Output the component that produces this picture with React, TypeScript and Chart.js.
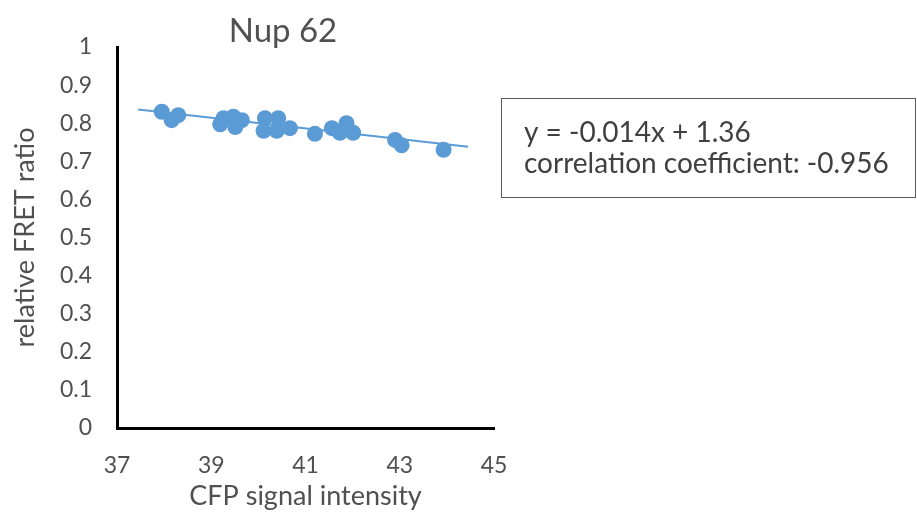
import React, { useEffect, useRef } from "react";
import { Chart, registerables } from "chart.js";

Chart.register(...registerables);

const chartTitle = "Nup 62";
const xAxisTitle = "CFP signal intensity";
const yAxisTitle = "relative FRET ratio";
const equationLines = ["y = -0.014x + 1.36", "correlation coefficient: -0.956"];

const cfpIntensity = [
  37.95, 38.16, 38.3, 39.19, 39.26, 39.47, 39.51, 39.65, 40.11, 40.14, 40.39,
  40.42, 40.67, 41.2, 41.56, 41.73, 41.87, 42.01, 42.9, 43.04, 43.93,
];
const fretRatio = [
  0.83, 0.808, 0.821, 0.797, 0.813, 0.817, 0.79, 0.808, 0.78, 0.813, 0.78,
  0.813, 0.787, 0.772, 0.787, 0.775, 0.8, 0.775, 0.756, 0.742, 0.73,
];
const trendX = [37.45, 44.45];
const trendY = [0.836, 0.738];

const xTicks = [37, 39, 41, 43, 45];

const FONT = "Lato, 'Open Sans', sans-serif";
const BLUE = "#5B9BD5";

const overlayPlugin = {
  id: "overlay",
  afterDraw(chart: any) {
    const ctx = chart.ctx;
    ctx.save();
    // chart title
    ctx.fillStyle = "#505050";
    ctx.font = `33px ${FONT}`;
    ctx.textAlign = "center";
    ctx.textBaseline = "middle";
    ctx.fillText(chartTitle, 283, 31);
    // equation box
    ctx.strokeStyle = "#595959";
    ctx.lineWidth = 1;
    ctx.strokeRect(501.5, 98.5, 414, 99);
    ctx.font = `28px ${FONT}`;
    ctx.textAlign = "left";
    ctx.fillStyle = "#404040";
    equationLines.forEach((line, i) => {
      ctx.fillText(line, 524, 133 + i * 31);
    });
    ctx.restore();
  },
};

export default function App() {
  const ref = useRef<HTMLCanvasElement>(null);
  useEffect(() => {
    const chart = new Chart(ref.current!, {
      type: "scatter",
      data: {
        datasets: [
          {
            type: "line",
            data: trendX.map((x, i) => ({ x, y: trendY[i] })),
            borderColor: BLUE,
            borderWidth: 2,
            pointRadius: 0,
            fill: false,
            order: 2,
          } as any,
          {
            data: cfpIntensity.map((x, i) => ({ x, y: fretRatio[i] })),
            backgroundColor: BLUE,
            borderColor: BLUE,
            pointRadius: 8,
            pointBorderWidth: 0,
            order: 1,
          },
        ],
      },
      options: {
        responsive: false,
        animation: false,
        devicePixelRatio: 1,
        layout: { padding: { top: 47, left: 0, right: 423, bottom: 0 } },
        plugins: {
          legend: { display: false },
          tooltip: { enabled: false },
          title: { display: false },
        },
        scales: {
          x: {
            type: "linear",
            min: 37,
            max: 45,
            afterFit: (s: any) => {
              s.height = 92;
            },
            afterBuildTicks: (s: any) => {
              s.ticks = xTicks.map((v) => ({ value: v }));
            },
            grid: { display: false, drawTicks: false },
            border: { display: true, color: "#000", width: 3 },
            ticks: {
              padding: 24,
              color: "#505050",
              font: { family: FONT, size: 23 },
            },
            title: {
              display: true,
              text: xAxisTitle,
              color: "#505050",
              font: { family: FONT, size: 27 },
              padding: { top: 0, bottom: 8 },
            },
          },
          y: {
            type: "linear",
            min: 0,
            max: 1,
            afterFit: (s: any) => {
              s.width = 117;
            },
            grid: { display: false, drawTicks: false },
            border: { display: true, color: "#000", width: 3 },
            ticks: {
              stepSize: 0.1,
              padding: 25,
              color: "#505050",
              font: { family: FONT, size: 23 },
              callback: (v: any) => String(Math.round(Number(v) * 10) / 10),
            },
            title: {
              display: true,
              text: yAxisTitle,
              color: "#505050",
              font: { family: FONT, size: 27 },
              padding: { top: 9, bottom: 0 },
            },
          },
        },
      },
      plugins: [overlayPlugin],
    });
    return () => chart.destroy();
  }, []);
  return (
    <div style={{ position: "absolute", left: 0, top: 0, width: 917, height: 520, background: "#fff" }}>
      <canvas ref={ref} width={917} height={520} />
    </div>
  );
}
